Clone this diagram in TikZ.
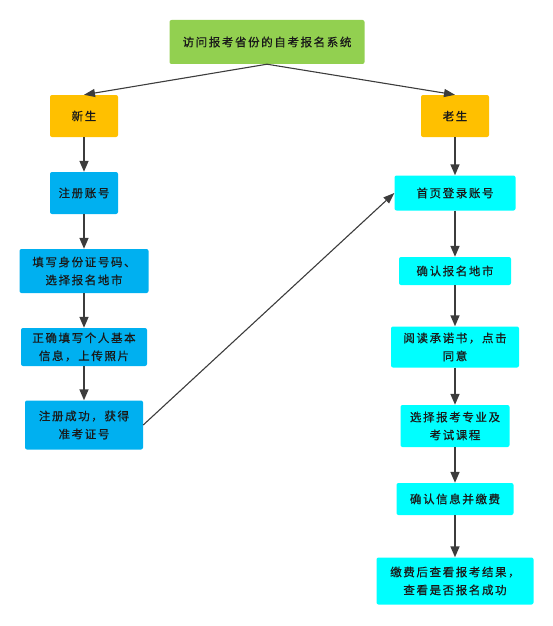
\documentclass[tikz,border=0pt]{standalone}
\usepackage{fontspec}
\newfontfamily\cjkfont[LetterSpace=14, FakeBold=0.6]{Noto Sans CJK SC}
\usetikzlibrary{arrows.meta, positioning}
\definecolor{titlegreen}{RGB}{146,208,80}
\definecolor{stageorange}{RGB}{255,192,0}
\definecolor{newblue}{RGB}{0,176,240}
\definecolor{oldcyan}{RGB}{0,255,255}
\definecolor{linegray}{RGB}{60,60,60}

\begin{document}
\begin{tikzpicture}[x=1pt, y=-1pt]
    \useasboundingbox (0,0) rectangle (553,626);
    % Define box and arrow styles
    \tikzstyle{box}=[rectangle, rounded corners=2pt, inner sep=2pt, align=center, text=black!90, font=\cjkfont\fontsize{11.5pt}{18pt}\selectfont]
    \tikzstyle{arrow}=[draw=linegray, line width=1.6pt, -{Triangle[length=11pt, width=9pt]}]
    \tikzstyle{link}=[draw=linegray, line width=1.1pt, -{Triangle[length=11pt, width=8pt]}]

    % Title
    \node[box, fill=titlegreen, minimum width=195pt, minimum height=44pt] at (267,42) (portal) {访问报考省份的自考报名系统};

    % Stages
    \node[box, fill=stageorange, minimum width=68pt, minimum height=42pt] at (84,116) (newst) {新生};
    \node[box, fill=stageorange, minimum width=68pt, minimum height=42pt] at (455,116) (oldst) {老生};

    % Left column
    \node[box, fill=newblue, minimum width=68pt, minimum height=42pt] at (84,193) (register) {注册账号};
    \node[box, fill=newblue, minimum width=129pt, minimum height=44pt] at (84,271) (idcard) {填写身份证号码、\\选择报名地市};
    \node[box, fill=newblue, minimum width=126pt, minimum height=38pt] at (84,347) (info) {正确填写个人基本\\信息，上传照片};
    \node[box, fill=newblue, minimum width=118pt, minimum height=49pt] at (84,425) (done) {注册成功，获得\\准考证号};

    % Right column
    \node[box, fill=oldcyan, minimum width=121pt, minimum height=35pt] at (455,193) (login) {首页登录账号};
    \node[box, fill=oldcyan, minimum width=112pt, minimum height=28pt] at (455,271) (city) {确认报名地市};
    \node[box, fill=oldcyan, minimum width=128pt, minimum height=41pt] at (455,347) (pledge) {阅读承诺书，点击\\同意};
    \node[box, fill=oldcyan, minimum width=109pt, minimum height=42pt] at (455,426) (course) {选择报考专业及\\考试课程};
    \node[box, fill=oldcyan, minimum width=117pt, minimum height=32pt] at (455,499) (pay) {确认信息并缴费};
    \node[box, fill=oldcyan, minimum width=157pt, minimum height=47pt] at (455,581) (result) {缴费后查看报考结果，\\查看是否报名成功};

    % Connectors
    \draw[link] (portal.south) -- (newst.north);
    \draw[link] (portal.south) -- (oldst.north);
    \draw[arrow] (newst) -- (register);
    \draw[arrow] (register) -- (idcard);
    \draw[arrow] (idcard) -- (info);
    \draw[arrow] (info) -- (done);
    \draw[arrow] (oldst) -- (login);
    \draw[arrow] (login) -- (city);
    \draw[arrow] (city) -- (pledge);
    \draw[arrow] (pledge) -- (course);
    \draw[arrow] (course) -- (pay);
    \draw[arrow] (pay) -- (result);
    \draw[link] (done.east) -- (login.west);
\end{tikzpicture}
\end{document}
